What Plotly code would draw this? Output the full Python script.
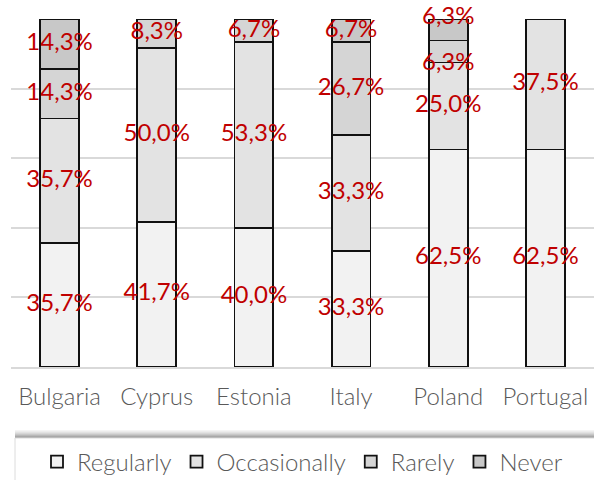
import plotly.graph_objects as go

countries = ["Bulgaria", "Cyprus", "Estonia", "Italy", "Poland", "Portugal"]
regularly = [35.7, 41.7, 40.0, 33.3, 62.5, 62.5]
occasionally = [35.7, 50.0, 53.3, 33.3, 25.0, 37.5]
rarely = [14.3, 8.3, 6.7, 26.7, 6.3, 0.0]
never = [14.3, 0.0, 0.0, 6.7, 6.3, 0.0]

series = [
    ("Regularly", regularly, "#f2f2f2"),
    ("Occasionally", occasionally, "#e3e3e3"),
    ("Rarely", rarely, "#d5d5d5"),
    ("Never", never, "#c8c8c8"),
]

W, H = 594, 480
M_L, M_R, M_T, M_B = 11, 0, 19, 113
plot_h = H - M_T - M_B


def py(pixel_y):
    """Convert a pixel row to paper y."""
    return (H - M_B - pixel_y) / plot_h


def px(pixel_x):
    return (pixel_x - M_L) / (W - M_L - M_R)


fig = go.Figure()

base = [0.0] * len(countries)
lab_x, lab_y, lab_t, lab_pos = [], [], [], []
for name, vals, color in series:
    fig.add_trace(go.Bar(
        name=name, x=countries, y=vals,
        marker=dict(color=color, line=dict(color="#111111", width=1.8)),
        hoverinfo="skip",
    ))
    for i, v in enumerate(vals):
        if v > 0:
            lab_x.append(countries[i])
            lab_y.append(base[i] + v / 2)
            lab_t.append(f"{v:.1f}%".replace(".", ","))
            # two thin neighbouring segments: push their labels apart
            pos = "middle center"
            if v < 7 and name == "Never" and rarely[i] < 7:
                pos = "top center"
            elif v < 7 and name == "Rarely" and never[i] > 0 and never[i] < 7:
                pos = "bottom center"
            lab_pos.append(pos)
        base[i] += v

fig.add_trace(go.Scatter(
    x=lab_x, y=lab_y, text=lab_t, mode="text",
    textfont=dict(family="Lato", size=24, color="#C00000"),
    textposition=lab_pos, showlegend=False, hoverinfo="skip",
    cliponaxis=False,
))

# legend panel with a soft shadow along its top edge
shapes = []
shadow = ["#f4f4f4", "#ececec", "#e2e2e2", "#d6d6d6", "#c8c8c8", "#b8b8b8", "#a8a8a8", "#9c9c9c"]
top = 438
for k, c in enumerate(shadow):
    y1 = top - len(shadow) + k
    shapes.append(dict(type="rect", xref="paper", yref="paper",
                       x0=px(15), x1=px(600), y0=py(y1 + 1), y1=py(y1),
                       fillcolor=c, line=dict(width=0), layer="below"))
shapes.append(dict(type="rect", xref="paper", yref="paper",
                   x0=px(15), x1=px(600), y0=py(482), y1=py(top),
                   fillcolor="white", line=dict(color="#dcdcdc", width=1), layer="below"))
fig.update_layout(shapes=shapes)

fig.update_layout(
    width=W, height=H,
    margin=dict(l=M_L, r=M_R, t=M_T, b=M_B, autoexpand=False),
    barmode="stack", bargap=0.6,
    plot_bgcolor="white", paper_bgcolor="white",
    font=dict(family="Lato", color="#595959"),
    xaxis=dict(showgrid=False, showline=True, linecolor="#d9d9d9", linewidth=1.5,
               ticks="", ticklabelstandoff=7, automargin=False,
               tickfont=dict(size=24, family="Lato", weight=300, color="#595959")),
    yaxis=dict(range=[0, 100], dtick=20, showgrid=True, gridcolor="#d9d9d9", gridwidth=1.5,
               showticklabels=False, zeroline=False, ticks="", automargin=False),
    legend=dict(orientation="h", x=px(37), xanchor="left", y=py(462), yanchor="middle",
                bgcolor="rgba(0,0,0,0)", font=dict(size=24, family="Lato", weight=300, color="#595959"),
                traceorder="normal", itemwidth=30),
)

fig.write_html("out.html")
